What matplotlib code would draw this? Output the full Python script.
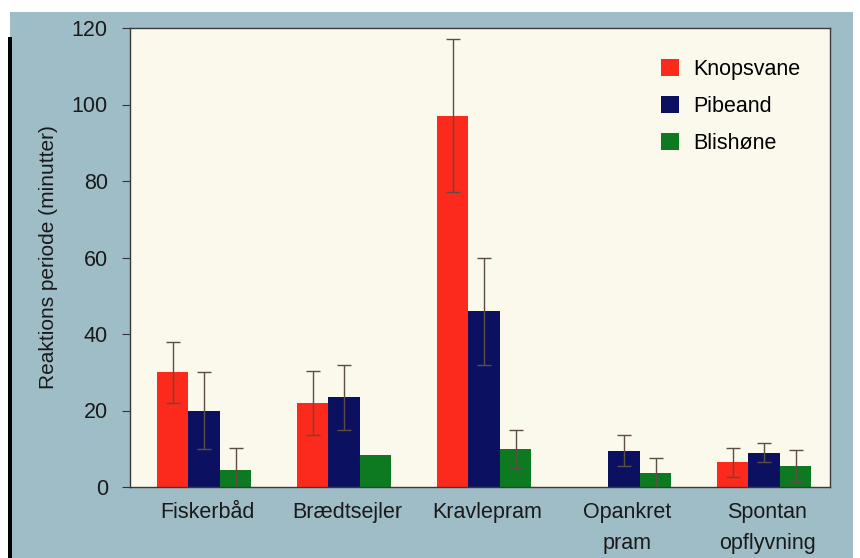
import numpy as np
import matplotlib
matplotlib.use("Agg")
import matplotlib.pyplot as plt
from matplotlib.patches import Rectangle

plt.rcParams['font.family'] = ['Liberation Sans', 'DejaVu Sans']

categories = ['Fiskerbåd', 'Brædtsejler', 'Kravlepram', 'Opankret\npram', 'Spontan\nopflyvning']
species = ['Knopsvane', 'Pibeand', 'Blishøne']

knopsvane = [30, 22, 97, 0, 6.5]
knopsvane_err = [8, 8.3, 20, 0, 3.8]
pibeand = [20, 23.5, 46, 9.5, 9]
pibeand_err = [10, 8.5, 14, 4, 2.5]
blishone = [4.5, 8.3, 10, 3.7, 5.5]
blishone_err = [5.8, 0, 5, 4, 4.3]

colors = ['#fb2a1c', '#0b1160', '#0d7a22']
bg = '#9fbdc7'
plot_bg = '#fbf8ec'
err_color = '#5b4f44'

fig = plt.figure(figsize=(8.6, 5.58), dpi=100, facecolor='white')
# scanned page panel
fig.add_artist(Rectangle((10 / 860, 0), 843 / 860, 546 / 558, transform=fig.transFigure,
                         facecolor=bg, edgecolor='none', zorder=-10))
fig.add_artist(Rectangle((8 / 860, 0), 4 / 860, 521 / 558, transform=fig.transFigure,
                         facecolor='black', edgecolor='none', zorder=-10))

ax = fig.add_axes([130 / 860, 1 - 487 / 558, 700 / 860, 459 / 558])
ax.set_facecolor(plot_bg)

x = np.arange(len(categories))
w = 0.225
series = [(knopsvane, knopsvane_err), (pibeand, pibeand_err), (blishone, blishone_err)]
for i, (vals, errs) in enumerate(series):
    pos = x + (i - 1) * w
    ax.bar(pos, vals, w, color=colors[i], label=species[i], zorder=2)
    for p, v, e in zip(pos, vals, errs):
        if e > 0:
            ax.errorbar(p, v, yerr=e, fmt='none', ecolor=err_color, elinewidth=1,
                        capsize=5, capthick=1, zorder=3)

ax.set_xlim(-0.53, 4.47)
ax.set_ylim(0, 120)
ax.set_yticks(range(0, 121, 20))
ax.set_xticks(x + 0.02)
ax.set_xticklabels(categories, fontsize=15.5, linespacing=1.6, color='#1a1a1a')
ax.tick_params(axis='x', length=0, pad=11)
ax.tick_params(axis='y', length=6, width=0.8, color='#333333', pad=10, labelsize=15.5,
               labelcolor='#1a1a1a')
for s in ax.spines.values():
    s.set_color('#3a3a3a')
    s.set_linewidth(1)

ax.set_ylabel('Reaktions periode (minutter)', fontsize=15, color='#1a1a1a', labelpad=10)

ax.legend(loc='upper right', frameon=False, fontsize=15.5, handlelength=0.85, handleheight=0.85,
          handletextpad=0.65, labelspacing=0.75, bbox_to_anchor=(0.985, 0.975))

fig.savefig('out.png', dpi=100, facecolor=fig.get_facecolor())
